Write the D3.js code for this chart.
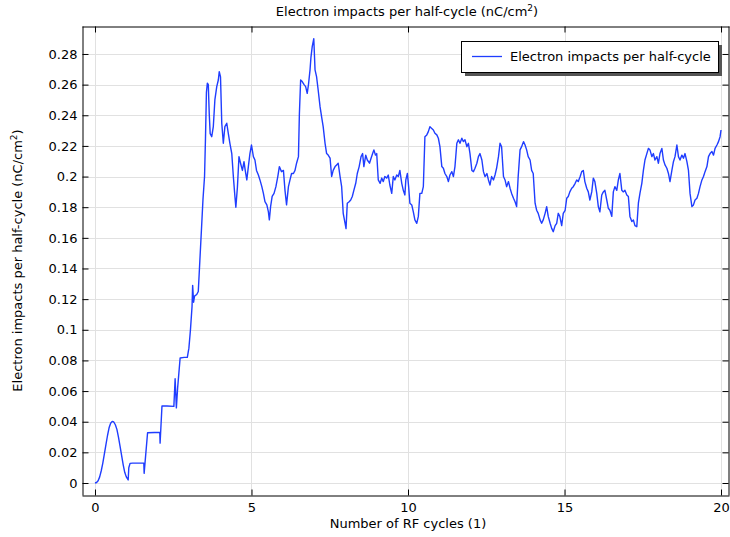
<!DOCTYPE html>
<html>
<head>
<meta charset="utf-8">
<script src="https://cdn.jsdelivr.net/npm/d3@7"></script>
<style>
  html, body { margin: 0; padding: 0; background: #fff; }
  svg { display: block; font-family: "DejaVu Sans", sans-serif; }
</style>
</head>
<body>
<svg id="chart" width="730" height="537"></svg>
<script>
// Number of RF cycles (x) and electron impacts per half-cycle in nC/cm^2 (y)
const cycles = [
  0.00, 0.05, 0.10, 0.15, 0.20, 0.25, 0.30, 0.35, 0.40, 0.45, 0.50, 0.55, 0.60, 0.65, 0.70, 0.75,
  0.80, 0.85, 0.90, 0.95, 1.00, 1.06, 1.08, 1.12, 1.20, 1.40, 1.56, 1.57, 1.68, 1.90, 2.07, 2.08,
  2.14, 2.30, 2.52, 2.56, 2.60, 2.64, 2.72, 2.85, 2.95, 3.00, 3.05, 3.10, 3.12, 3.15, 3.18, 3.25,
  3.30, 3.35, 3.40, 3.45, 3.50, 3.53, 3.56, 3.59, 3.62, 3.65, 3.68, 3.73, 3.78, 3.83, 3.89, 3.94,
  3.97, 4.01, 4.05, 4.10, 4.15, 4.21, 4.26, 4.31, 4.37, 4.42, 4.47, 4.50, 4.55, 4.60, 4.65, 4.71,
  4.76, 4.80, 4.85, 4.90, 4.95, 5.00, 5.06, 5.11, 5.16, 5.22, 5.27, 5.33, 5.38, 5.43, 5.49, 5.54,
  5.57, 5.61, 5.66, 5.72, 5.78, 5.84, 5.89, 5.96, 6.02, 6.07, 6.12, 6.18, 6.23, 6.28, 6.34, 6.39,
  6.44, 6.50, 6.53, 6.57, 6.62, 6.68, 6.73, 6.78, 6.82, 6.87, 6.90, 6.94, 6.99, 7.03, 7.08, 7.13,
  7.19, 7.24, 7.29, 7.35, 7.40, 7.45, 7.51, 7.56, 7.61, 7.67, 7.72, 7.77, 7.83, 7.88, 7.93, 7.99,
  8.02, 8.06, 8.12, 8.17, 8.22, 8.27, 8.33, 8.38, 8.44, 8.50, 8.55, 8.59, 8.65, 8.70, 8.77, 8.82,
  8.87, 8.91, 8.96, 9.00, 9.05, 9.11, 9.16, 9.21, 9.26, 9.32, 9.37, 9.42, 9.48, 9.53, 9.58, 9.64,
  9.69, 9.74, 9.80, 9.85, 9.90, 9.93, 9.98, 10.02, 10.06, 10.12, 10.17, 10.22, 10.28, 10.33, 10.38, 10.44,
  10.49, 10.54, 10.60, 10.65, 10.70, 10.75, 10.81, 10.86, 10.92, 10.97, 11.02, 11.08, 11.13, 11.18, 11.24, 11.29,
  11.34, 11.40, 11.45, 11.50, 11.56, 11.61, 11.66, 11.72, 11.77, 11.82, 11.88, 11.93, 11.98, 12.04, 12.09, 12.14,
  12.20, 12.25, 12.30, 12.36, 12.41, 12.46, 12.52, 12.57, 12.62, 12.67, 12.73, 12.78, 12.83, 12.89, 12.94, 12.99,
  13.05, 13.10, 13.15, 13.21, 13.26, 13.31, 13.37, 13.42, 13.47, 13.52, 13.58, 13.63, 13.69, 13.74, 13.79, 13.84,
  13.90, 13.95, 14.00, 14.06, 14.11, 14.16, 14.22, 14.27, 14.32, 14.38, 14.43, 14.48, 14.54, 14.59, 14.64, 14.70,
  14.75, 14.80, 14.85, 14.91, 14.96, 15.02, 15.07, 15.12, 15.17, 15.23, 15.28, 15.34, 15.39, 15.44, 15.50, 15.55,
  15.60, 15.65, 15.71, 15.76, 15.81, 15.87, 15.92, 15.97, 16.03, 16.08, 16.13, 16.19, 16.24, 16.29, 16.35, 16.40,
  16.45, 16.51, 16.56, 16.61, 16.67, 16.72, 16.77, 16.83, 16.88, 16.93, 16.99, 17.04, 17.09, 17.15, 17.20, 17.25,
  17.31, 17.36, 17.41, 17.47, 17.52, 17.57, 17.63, 17.68, 17.73, 17.79, 17.84, 17.89, 17.95, 18.00, 18.05, 18.11,
  18.16, 18.21, 18.27, 18.32, 18.37, 18.43, 18.48, 18.53, 18.59, 18.64, 18.69, 18.75, 18.80, 18.85, 18.91, 18.96,
  19.01, 19.07, 19.12, 19.17, 19.23, 19.28, 19.33, 19.39, 19.44, 19.49, 19.55, 19.60, 19.65, 19.71, 19.76, 19.81,
  19.87, 19.92, 19.97, 20.00
];

const impacts = [
  0.0000, 0.0003, 0.0015, 0.0040, 0.0080, 0.0130, 0.0190, 0.0250, 0.0310, 0.0360, 0.0390, 0.0402, 0.0398, 0.0380, 0.0350, 0.0300,
  0.0240, 0.0180, 0.0120, 0.0070, 0.0040, 0.0020, 0.0100, 0.0128, 0.0130, 0.0130, 0.0130, 0.0063, 0.0328, 0.0330, 0.0330, 0.0260,
  0.0503, 0.0503, 0.0500, 0.0680, 0.0490, 0.0620, 0.0816, 0.0820, 0.0820, 0.0880, 0.1000, 0.1150, 0.1290, 0.1180, 0.1220, 0.1230,
  0.1250, 0.1450, 0.1650, 0.1850, 0.2000, 0.2250, 0.2550, 0.2610, 0.2600, 0.2410, 0.2280, 0.2260, 0.2326, 0.2500, 0.2587, 0.2630,
  0.2685, 0.2650, 0.2348, 0.2217, 0.2326, 0.2348, 0.2280, 0.2217, 0.2150, 0.2000, 0.1870, 0.1800, 0.1930, 0.2130, 0.2087, 0.2040,
  0.2097, 0.2040, 0.1978, 0.2065, 0.2150, 0.2206, 0.2130, 0.2108, 0.2040, 0.2010, 0.1978, 0.1934, 0.1890, 0.1836, 0.1815, 0.1770,
  0.1717, 0.1804, 0.1870, 0.1890, 0.1934, 0.2000, 0.2065, 0.2032, 0.2040, 0.1910, 0.1815, 0.1934, 0.1978, 0.2020, 0.2020, 0.2040,
  0.2087, 0.2130, 0.2410, 0.2630, 0.2620, 0.2600, 0.2587, 0.2543, 0.2600, 0.2696, 0.2780, 0.2848, 0.2900, 0.2696, 0.2650, 0.2565,
  0.2456, 0.2390, 0.2326, 0.2217, 0.2150, 0.2140, 0.2120, 0.2000, 0.2040, 0.2065, 0.2076, 0.2087, 0.2000, 0.1934, 0.1760, 0.1695,
  0.1660, 0.1826, 0.1836, 0.1847, 0.1870, 0.1910, 0.1956, 0.2020, 0.2065, 0.2130, 0.2150, 0.2065, 0.2140, 0.2108, 0.2087, 0.2120,
  0.2150, 0.2174, 0.2140, 0.2150, 0.1978, 0.1956, 0.1990, 0.1967, 0.2000, 0.1990, 0.2010, 0.1945, 0.1890, 0.2000, 0.1978, 0.2010,
  0.2000, 0.2040, 0.1956, 0.1910, 0.1880, 0.1978, 0.2020, 0.1934, 0.1826, 0.1815, 0.1770, 0.1717, 0.1695, 0.1740, 0.1890, 0.1890,
  0.1934, 0.2260, 0.2272, 0.2293, 0.2326, 0.2315, 0.2304, 0.2283, 0.2272, 0.2250, 0.2195, 0.2065, 0.2054, 0.2020, 0.2000, 0.1967,
  0.2010, 0.2032, 0.2000, 0.2065, 0.2217, 0.2240, 0.2217, 0.2250, 0.2228, 0.2240, 0.2195, 0.2217, 0.2150, 0.2040, 0.2032, 0.2054,
  0.2087, 0.2130, 0.2150, 0.2108, 0.2032, 0.2000, 0.2020, 0.1978, 0.1945, 0.2000, 0.1978, 0.2010, 0.2054, 0.2130, 0.2217, 0.2195,
  0.2000, 0.1978, 0.1934, 0.1967, 0.1924, 0.1890, 0.1858, 0.1836, 0.1804, 0.2000, 0.2174, 0.2195, 0.2228, 0.2206, 0.2174, 0.2130,
  0.2108, 0.2040, 0.2020, 0.1826, 0.1780, 0.1760, 0.1717, 0.1695, 0.1717, 0.1760, 0.1804, 0.1740, 0.1695, 0.1662, 0.1640, 0.1680,
  0.1695, 0.1760, 0.1740, 0.1680, 0.1760, 0.1780, 0.1858, 0.1870, 0.1900, 0.1924, 0.1934, 0.1956, 0.1978, 0.1967, 0.2000, 0.2032,
  0.2040, 0.1967, 0.1924, 0.1900, 0.1847, 0.1900, 0.1990, 0.1967, 0.1890, 0.1804, 0.1770, 0.1880, 0.1900, 0.1910, 0.1847, 0.1793,
  0.1780, 0.1740, 0.1900, 0.1934, 0.1910, 0.1978, 0.2020, 0.1910, 0.1900, 0.1910, 0.1880, 0.1870, 0.1740, 0.1706, 0.1717, 0.1680,
  0.1673, 0.1826, 0.1890, 0.1956, 0.2040, 0.2108, 0.2150, 0.2184, 0.2174, 0.2130, 0.2150, 0.2108, 0.2130, 0.2087, 0.2150, 0.2184,
  0.2108, 0.2076, 0.2054, 0.2020, 0.1967, 0.2040, 0.2097, 0.2130, 0.2206, 0.2130, 0.2108, 0.2140, 0.2120, 0.2150, 0.2097, 0.2040,
  0.1890, 0.1804, 0.1815, 0.1847, 0.1858, 0.1890, 0.1934, 0.1978, 0.2000, 0.2032, 0.2065, 0.2130, 0.2150, 0.2163, 0.2140, 0.2184,
  0.2206, 0.2228, 0.2260, 0.2304
];

const xTicks = [0, 5, 10, 15, 20];
const yTicks = [0, 0.02, 0.04, 0.06, 0.08, 0.1, 0.12, 0.14, 0.16, 0.18, 0.2, 0.22, 0.24, 0.26, 0.28];

const titleText = "Electron impacts per half-cycle (nC/cm";
const xLabel = "Number of RF cycles (1)";
const legendLabel = "Electron impacts per half-cycle";

const W = 730, H = 537;
const plot = { left: 82, top: 26, right: 729, bottom: 495 };
const lineColor = "#1f3dff";
const fontSize = "13px";

const svg = d3.select("#chart");

const x = d3.scaleLinear().domain([-0.415, 20.255]).range([plot.left, plot.right]);
const y = d3.scaleLinear().domain([-0.00783, 0.29826]).range([plot.bottom, plot.top]);

// grid
const grid = svg.append("g");
grid.selectAll(".gx").data(xTicks).join("line")
  .attr("x1", d => Math.round(x(d)) + 0.5).attr("x2", d => Math.round(x(d)) + 0.5)
  .attr("y1", plot.top).attr("y2", plot.bottom)
  .attr("stroke", "#e1e1e1").attr("stroke-width", 1);
grid.selectAll(".gy").data(yTicks).join("line")
  .attr("y1", d => Math.round(y(d)) + 0.5).attr("y2", d => Math.round(y(d)) + 0.5)
  .attr("x1", plot.left).attr("x2", plot.right)
  .attr("stroke", "#e1e1e1").attr("stroke-width", 1);

// data line
const pts = cycles.map((c, i) => [c, impacts[i]]);
const line = d3.line().x(d => x(d[0])).y(d => y(d[1]));
svg.append("path")
  .datum(pts)
  .attr("d", line)
  .attr("fill", "none")
  .attr("stroke", lineColor)
  .attr("stroke-width", 1.4)
  .attr("stroke-linejoin", "round");

// axes (ticks point inward, on all four sides)
const fmt = d => d3.format("~g")(d);
const axB = svg.append("g").attr("transform", `translate(0,${plot.bottom + 0.5})`)
  .call(d3.axisBottom(x).tickValues(xTicks).tickSizeInner(-6).tickSizeOuter(0).tickPadding(12).tickFormat(fmt));
const axL = svg.append("g").attr("transform", `translate(${plot.left + 0.5},0)`)
  .call(d3.axisLeft(y).tickValues(yTicks).tickSizeInner(-6).tickSizeOuter(0).tickPadding(12).tickFormat(fmt));
const axT = svg.append("g").attr("transform", `translate(0,${plot.top + 0.5})`)
  .call(d3.axisTop(x).tickValues(xTicks).tickSizeInner(-6).tickSizeOuter(0).tickFormat(""));
const axR = svg.append("g").attr("transform", `translate(${plot.right - 0.5},0)`)
  .call(d3.axisRight(y).tickValues(yTicks).tickSizeInner(-6).tickSizeOuter(0).tickFormat(""));

[axB, axL, axT, axR].forEach(a => {
  a.select(".domain").attr("stroke", "#000").attr("stroke-width", 1);
  a.selectAll(".tick line").attr("stroke", "#000");
  a.selectAll("text").attr("fill", "#000").style("font-family", "DejaVu Sans, sans-serif").style("font-size", fontSize);
});
axL.selectAll(".tick text").attr("x", -5);
axB.selectAll(".tick text").attr("y", 7);

// title
const title = svg.append("text")
  .attr("x", 407).attr("y", 16)
  .attr("text-anchor", "middle")
  .style("font-size", fontSize).attr("fill", "#000");
title.append("tspan").text(titleText);
title.append("tspan").attr("dy", -5).style("font-size", "9px").text("2");
title.append("tspan").attr("dy", 5).text(")");

// x label
svg.append("text")
  .attr("x", 408).attr("y", 528)
  .attr("text-anchor", "middle")
  .style("font-size", fontSize).attr("fill", "#000")
  .text(xLabel);

// y label
const yl = svg.append("text")
  .attr("transform", `translate(22,${(plot.top + plot.bottom) / 2}) rotate(-90)`)
  .attr("text-anchor", "middle")
  .style("font-size", fontSize).attr("fill", "#000");
yl.append("tspan").text(titleText);
yl.append("tspan").attr("dy", -5).style("font-size", "9px").text("2");
yl.append("tspan").attr("dy", 5).text(")");

// legend
const lg = svg.append("g");
lg.append("rect").attr("x", 465).attr("y", 45).attr("width", 257).attr("height", 31).attr("fill", "#555");
lg.append("rect").attr("x", 461.5).attr("y", 41.5).attr("width", 257).attr("height", 31)
  .attr("fill", "#fff").attr("stroke", "#000").attr("stroke-width", 1);
lg.append("line").attr("x1", 472).attr("x2", 502).attr("y1", 56.5).attr("y2", 56.5)
  .attr("stroke", lineColor).attr("stroke-width", 1.3);
lg.append("text").attr("x", 510).attr("y", 61)
  .style("font-size", fontSize).attr("fill", "#000").text(legendLabel);
</script>
</body>
</html>
